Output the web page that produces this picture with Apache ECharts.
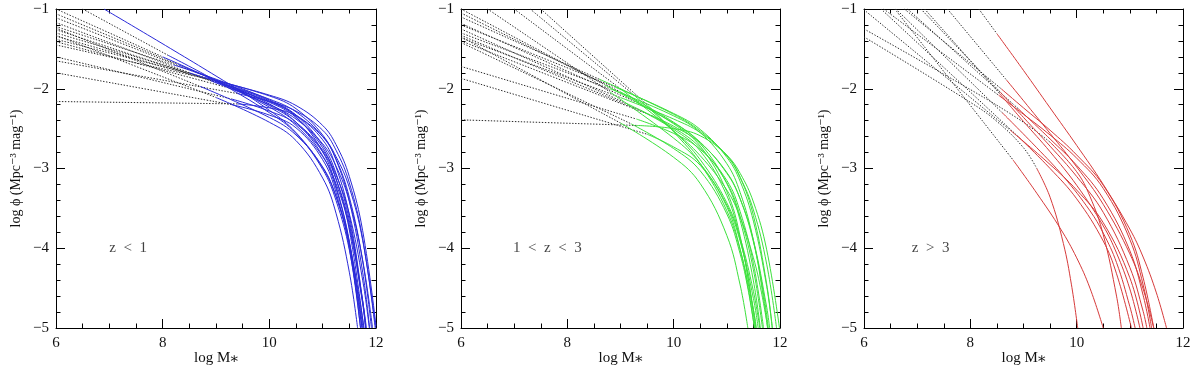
<!DOCTYPE html>
<html><head><meta charset="utf-8">
<script src="https://cdn.jsdelivr.net/npm/echarts/dist/echarts.min.js"></script>
<style>html,body{margin:0;padding:0;background:#fff}#c{width:1200px;height:368px}</style>
</head><body><div id="c"></div><script>
// ---- tick values & labels ----
const xTicks = [6, 8, 10, 12];
const yTicks = [-1, -2, -3, -4, -5];
const panelLabels = ['z  <  1', '1  <  z  <  3', 'z  >  3'];

// ---- z < 1 : curves [log M*, log phi]; split = index where dotted turns solid ----
const lowZCurves = [
  [[6,-1.00],[8.0,-1.60],[9,-1.90],[10,-2.23],[10.5,-2.46],[11,-2.85],[11.25,-3.19],[11.5,-3.74],[11.75,-4.67],[11.82,-5.0]],
  [[6,-1.06],[8.3,-1.70],[9,-1.90],[10,-2.21],[10.5,-2.42],[11,-2.77],[11.25,-3.08],[11.5,-3.57],[11.75,-4.40],[11.875,-5.0]],
  [[6,-1.11],[8.6,-1.79],[9,-1.89],[10,-2.19],[10.5,-2.42],[11,-2.84],[11.25,-3.25],[11.5,-3.91],[11.74,-5.0]],
  [[6,-1.17],[8.9,-1.90],[10,-2.20],[10.5,-2.38],[11,-2.69],[11.25,-2.97],[11.5,-3.41],[11.75,-4.15],[11.935,-5.0]],
  [[6,-1.22],[8.2,-1.70],[9,-1.88],[10,-2.14],[10.5,-2.33],[11,-2.71],[11.25,-3.06],[11.5,-3.65],[11.75,-4.66],[11.81,-5.0]],
  [[6,-1.26],[9.0,-1.92],[10,-2.16],[10.5,-2.33],[11,-2.60],[11.25,-2.85],[11.5,-3.24],[11.75,-3.90],[11.995,-5.0]],
  [[6,-1.30],[8.5,-1.80],[9,-1.91],[10,-2.15],[10.5,-2.35],[11,-2.79],[11.25,-3.22],[11.5,-3.94],[11.71,-5.0]],
  [[6,-1.34],[9.2,-1.95],[10,-2.13],[10.5,-2.29],[11,-2.60],[11.25,-2.88],[11.5,-3.36],[11.75,-4.16],[11.915,-5.0]],
  [[6,-1.38],[8.8,-1.86],[10,-2.09],[10.5,-2.25],[11,-2.58],[11.25,-2.89],[11.5,-3.41],[11.75,-4.30],[11.88,-5.0]],
  [[6,-1.41],[9.3,-2.00],[10,-2.17],[10.5,-2.36],[11,-2.74],[11.25,-3.13],[11.5,-3.77],[11.77,-5.0]],
  [[6,-1.45],[9.0,-1.90],[10,-2.08],[10.5,-2.21],[11,-2.46],[11.25,-2.70],[11.5,-3.10],[11.75,-3.78],[12,-4.97]],
  [[6,-1.60],[9.3,-2.13],[10,-2.28],[10.5,-2.44],[11,-2.79],[11.25,-3.13],[11.5,-3.70],[11.75,-4.70],[11.805,-5.0]],
  [[6,-1.65],[9.4,-2.06],[10,-2.16],[10.5,-2.28],[11,-2.52],[11.25,-2.77],[11.5,-3.18],[11.75,-3.88],[11.985,-5.0]],
  [[6,-1.80],[9.3,-2.20],[10,-2.33],[10.5,-2.49],[11,-2.89],[11.25,-3.30],[11.5,-4.00],[11.71,-5.0]],
  [[6,-2.16],[9.4,-2.19],[10,-2.24],[10.5,-2.34],[11,-2.64],[11.25,-2.98],[11.5,-3.59],[11.75,-4.66],[11.805,-5.0]],
  [[6.5,-1.00],[8.1,-1.58],[9,-1.90],[10,-2.30],[10.5,-2.56],[11,-3.01],[11.25,-3.40],[11.5,-4.02],[11.735,-5.0]],
  [[6.9,-1.00],[9,-1.84],[10,-2.27],[10.5,-2.55],[11,-2.99],[11.25,-3.35],[11.5,-3.93],[11.775,-5.0]],
  [[6,-1.33],[9.0,-2.11],[10,-2.42],[10.5,-2.65],[11,-3.12],[11.25,-3.56],[11.5,-4.30],[11.655,-5.0]],
  [[6,-1.24],[8.7,-1.97],[10,-2.36],[10.5,-2.58],[11,-2.98],[11.25,-3.35],[11.5,-3.95],[11.755,-5.0]]
];
const lowZSplit = [1,1,1,1,1,1,1,1,1,1,1,1,1,1,1,1,0,1,1];

// ---- 1 < z < 3 ----
const midZCurves = [
  [[6.5,-1.00],[8.8,-2.04],[10,-2.62],[10.5,-2.94],[11,-3.46],[11.25,-3.91],[11.5,-4.63],[11.59,-5.0]],
  [[7.0,-1.00],[9.0,-2.00],[10,-2.53],[10.5,-2.84],[11,-3.27],[11.25,-3.61],[11.5,-4.12],[11.65,-4.55],[11.77,-5.0]],
  [[7.3,-1.00],[9.2,-2.05],[10,-2.53],[10.5,-2.89],[11,-3.43],[11.25,-3.87],[11.5,-4.54],[11.62,-5.0]],
  [[7.5,-1.00],[9.5,-2.20],[10,-2.54],[10.5,-2.94],[11,-3.53],[11.25,-4.02],[11.5,-4.77],[11.555,-5.0]],
  [[6,-1.00],[8.7,-1.95],[10,-2.43],[10.5,-2.67],[11,-3.06],[11.25,-3.38],[11.5,-3.90],[11.75,-4.74],[11.805,-5.0]],
  [[6,-1.05],[9.0,-2.04],[10,-2.42],[10.5,-2.69],[11,-3.19],[11.25,-3.65],[11.5,-4.41],[11.63,-5.0]],
  [[6,-1.10],[8.6,-1.88],[10,-2.32],[10.5,-2.53],[11,-2.84],[11.25,-3.11],[11.5,-3.52],[11.75,-4.20],[11.935,-5.0]],
  [[6,-1.18],[9.3,-2.17],[10,-2.44],[10.5,-2.72],[11,-3.29],[11.25,-3.85],[11.5,-4.77],[11.545,-5.0]],
  [[6,-1.25],[9.1,-2.18],[10,-2.49],[10.5,-2.74],[11,-3.18],[11.25,-3.60],[11.5,-4.27],[11.67,-5.0]],
  [[6,-1.30],[8.8,-2.00],[10,-2.34],[10.5,-2.55],[11,-2.94],[11.25,-3.30],[11.5,-3.90],[11.7,-4.67],[11.765,-5.0]],
  [[6,-1.33],[9.4,-2.28],[10,-2.51],[10.5,-2.78],[11,-3.34],[11.25,-3.89],[11.4,-4.38],[11.535,-5.0]],
  [[6,-1.36],[9.0,-2.11],[10,-2.38],[10.5,-2.55],[11,-2.83],[11.25,-3.06],[11.5,-3.42],[11.75,-4.02],[11.99,-5.0]],
  [[6,-1.40],[9.6,-2.34],[10,-2.47],[10.5,-2.68],[11,-3.05],[11.25,-3.38],[11.5,-3.92],[11.7,-4.61],[11.78,-5.0]],
  [[6,-1.42],[9.2,-2.44],[10,-2.75],[10.5,-3.03],[11,-3.57],[11.25,-4.07],[11.4,-4.52],[11.52,-5.0]],
  [[6,-1.72],[9.3,-2.38],[10,-2.56],[10.5,-2.76],[11,-3.15],[11.25,-3.54],[11.5,-4.19],[11.69,-5.0]],
  [[6,-1.87],[9.5,-2.57],[10,-2.73],[10.5,-2.96],[11,-3.48],[11.25,-4.01],[11.4,-4.49],[11.52,-5.0]],
  [[6,-2.39],[9.3,-2.46],[10,-2.50],[10.5,-2.59],[11,-2.84],[11.25,-3.11],[11.5,-3.59],[11.75,-4.45],[11.855,-5.0]],
  [[6,-1.35],[9.0,-2.43],[10,-2.86],[10.5,-3.19],[11,-3.84],[11.25,-4.46],[11.395,-5.0]],
  [[6,-1.20],[8.9,-1.98],[10,-2.31],[10.5,-2.51],[11,-2.86],[11.25,-3.16],[11.5,-3.66],[11.75,-4.48],[11.855,-5.0]]
];
const midZSplit = [1,1,1,1,1,1,1,1,1,1,1,1,1,1,1,1,1,1,1];

// ---- z > 3 ----
const highZCurves = [
  [[8.16,-1.0],[8.5,-1.31],[9,-1.77],[9.5,-2.24],[10,-2.71],[10.5,-3.20],[11,-3.76],[11.25,-4.11],[11.5,-4.56],[11.69,-5.0]],
  [[7.57,-1.0],[8.68,-1.89],[9,-2.15],[9.5,-2.56],[10,-2.98],[10.5,-3.45],[11,-4.07],[11.25,-4.51],[11.45,-5.0]],
  [[7.07,-1.0],[8.56,-2.04],[9,-2.36],[9.5,-2.72],[10,-3.10],[10.5,-3.55],[11,-4.24],[11.25,-4.79],[11.32,-5.0]],
  [[6.37,-1.0],[8.53,-2.08],[9,-2.32],[9.5,-2.58],[10,-2.87],[10.5,-3.25],[11,-3.89],[11.25,-4.46],[11.41,-5.0]],
  [[6.76,-1.0],[8.58,-2.00],[9,-2.24],[9.5,-2.52],[10,-2.83],[10.5,-3.21],[11,-3.83],[11.25,-4.37],[11.45,-5.0]],
  [[6,-1.01],[8.75,-2.52],[9.5,-2.95],[10,-3.27],[10.5,-3.68],[11,-4.37],[11.25,-5.0]],
  [[6.58,-1.0],[8.8,-2.89],[9.25,-3.31],[9.7,-3.76],[10,-4.12],[10.25,-4.50],[10.5,-5.0]],
  [[6,-1.35],[8,-2.17],[8.5,-2.41],[9.0,-2.74],[9.25,-3.00],[9.5,-3.36],[9.75,-3.94],[9.9,-4.45],[10.02,-5.0]],
  [[6,-1.25],[8,-2.01],[9,-2.42],[9.5,-2.67],[10,-3.04],[10.25,-3.35],[10.5,-3.83],[10.75,-4.60],[10.84,-5.0]],
  [[6.32,-1.0],[8.9,-2.60],[9.5,-3.00],[10,-3.38],[10.5,-3.91],[10.75,-4.32],[11.03,-5.0]],
  [[6.6,-1.0],[8.6,-2.30],[9.25,-2.74],[9.75,-3.10],[10.25,-3.53],[10.5,-3.81],[10.75,-4.18],[11.0,-4.73],[11.10,-5.0]],
  [[7.14,-1.0],[8.55,-2.06],[9,-2.41],[9.5,-2.79],[10,-3.21],[10.5,-3.72],[10.75,-4.06],[11.0,-4.51],[11.19,-5.0]],
  [[6.82,-1.0],[8.9,-2.25],[9.5,-2.63],[10,-2.96],[10.5,-3.38],[11,-4.03],[11.25,-4.59],[11.38,-5.0]]
];
const highZSplit = [1,1,1,1,1,1,1,4,3,1,1,1,1];

// ---- option construction ----
const FONT = "'Liberation Serif','DejaVu Serif',serif";
const INK = '#111';
const panels = [
  {curves: lowZCurves, split: lowZSplit, color: '#2a2ad8', left: 56, width: 320, labelX: 7.0},
  {curves: midZCurves, split: midZSplit, color: '#3ce03c', left: 461, width: 319, labelX: 6.98},
  {curves: highZCurves, split: highZSplit, color: '#d63a3a', left: 864, width: 319, labelX: 6.9}
];

const grids = [], xAxes = [], yAxes = [], series = [];
const frame = {show: true, onZero: false, lineStyle: {color: '#000', width: 1}};
const majorTick = {show: true, inside: true, length: 9, lineStyle: {color: '#000', width: 1}};
panels.forEach((p, i) => {
  grids.push({left: p.left, top: 9, width: p.width, height: 319, containLabel: false, outerBoundsMode: 'none'});
  xAxes.push({
    gridIndex: i, type: 'value', min: xTicks[0], max: xTicks[xTicks.length - 1], interval: 2, position: 'bottom',
    axisLine: frame, axisTick: majorTick,
    minorTick: {show: true, splitNumber: 4, length: 4.5, lineStyle: {color: '#000', width: 1}},
    splitLine: {show: false},
    axisLabel: {show: true, margin: 8, fontSize: 15, fontFamily: FONT, color: INK,
      formatter: v => xTicks.includes(v) ? String(v) : ''},
    name: 'log M\u204e', nameLocation: 'middle', nameGap: 23, nameMoveOverlap: false,
    nameTextStyle: {fontSize: 15, fontFamily: FONT, color: INK, verticalAlign: 'top'}
  });
  yAxes.push({
    gridIndex: i, type: 'value', min: -5, max: -1, interval: 1, position: 'left',
    axisLine: frame, axisTick: majorTick,
    minorTick: {show: true, splitNumber: 5, length: 4.5, lineStyle: {color: '#000', width: 1}},
    splitLine: {show: false},
    axisLabel: {show: true, margin: 7, fontSize: 15, fontFamily: FONT, color: INK,
      formatter: v => yTicks.includes(v) ? String(v).replace('-', '\u2212') : ''},
    name: 'log \u03d5 (Mpc\u207b\u00b3 mag\u207b\u00b9)', nameLocation: 'middle', nameGap: 33, nameRotate: 90,
    nameMoveOverlap: false,
    nameTextStyle: {fontSize: 14, fontFamily: FONT, color: INK}
  });
});
panels.forEach((p, i) => {
  xAxes.push({
    gridIndex: i, type: 'value', min: xTicks[0], max: xTicks[xTicks.length - 1], interval: 2, position: 'top',
    axisLine: frame, axisTick: majorTick,
    minorTick: {show: true, splitNumber: 4, length: 4.5, lineStyle: {color: '#000', width: 1}},
    splitLine: {show: false}, axisLabel: {show: false}
  });
  yAxes.push({
    gridIndex: i, type: 'value', min: -5, max: -1, interval: 1, position: 'right',
    axisLine: frame, axisTick: majorTick,
    minorTick: {show: true, splitNumber: 5, length: 4.5, lineStyle: {color: '#000', width: 1}},
    splitLine: {show: false}, axisLabel: {show: false}
  });
});

panels.forEach((p, i) => {
  p.curves.forEach((pts, k) => {
    const sp = p.split[k];
    if (sp > 0) {
      series.push({type: 'line', xAxisIndex: i, yAxisIndex: i, data: pts.slice(0, sp + 1),
        showSymbol: false, silent: true, smooth: 0.4, z: 2,
        lineStyle: {color: '#2a2a2a', width: 1, type: [1.4, 1.6]}});
    }
    series.push({type: 'line', xAxisIndex: i, yAxisIndex: i, data: pts.slice(sp),
      showSymbol: false, silent: true, smooth: 0.4, z: 3,
      lineStyle: {color: p.color, width: 1}});
  });
  series.push({type: 'scatter', xAxisIndex: i, yAxisIndex: i, symbolSize: 0, silent: true,
    data: [[p.labelX, -4.0]],
    label: {show: true, position: 'right', distance: 0, formatter: panelLabels[i],
      fontSize: 15, fontFamily: FONT, color: INK}});
});

const chart = echarts.init(document.getElementById('c'), null, {renderer: 'canvas'});
chart.setOption({animation: false, backgroundColor: '#fff', grid: grids, xAxis: xAxes, yAxis: yAxes, series: series});
</script></body></html>
